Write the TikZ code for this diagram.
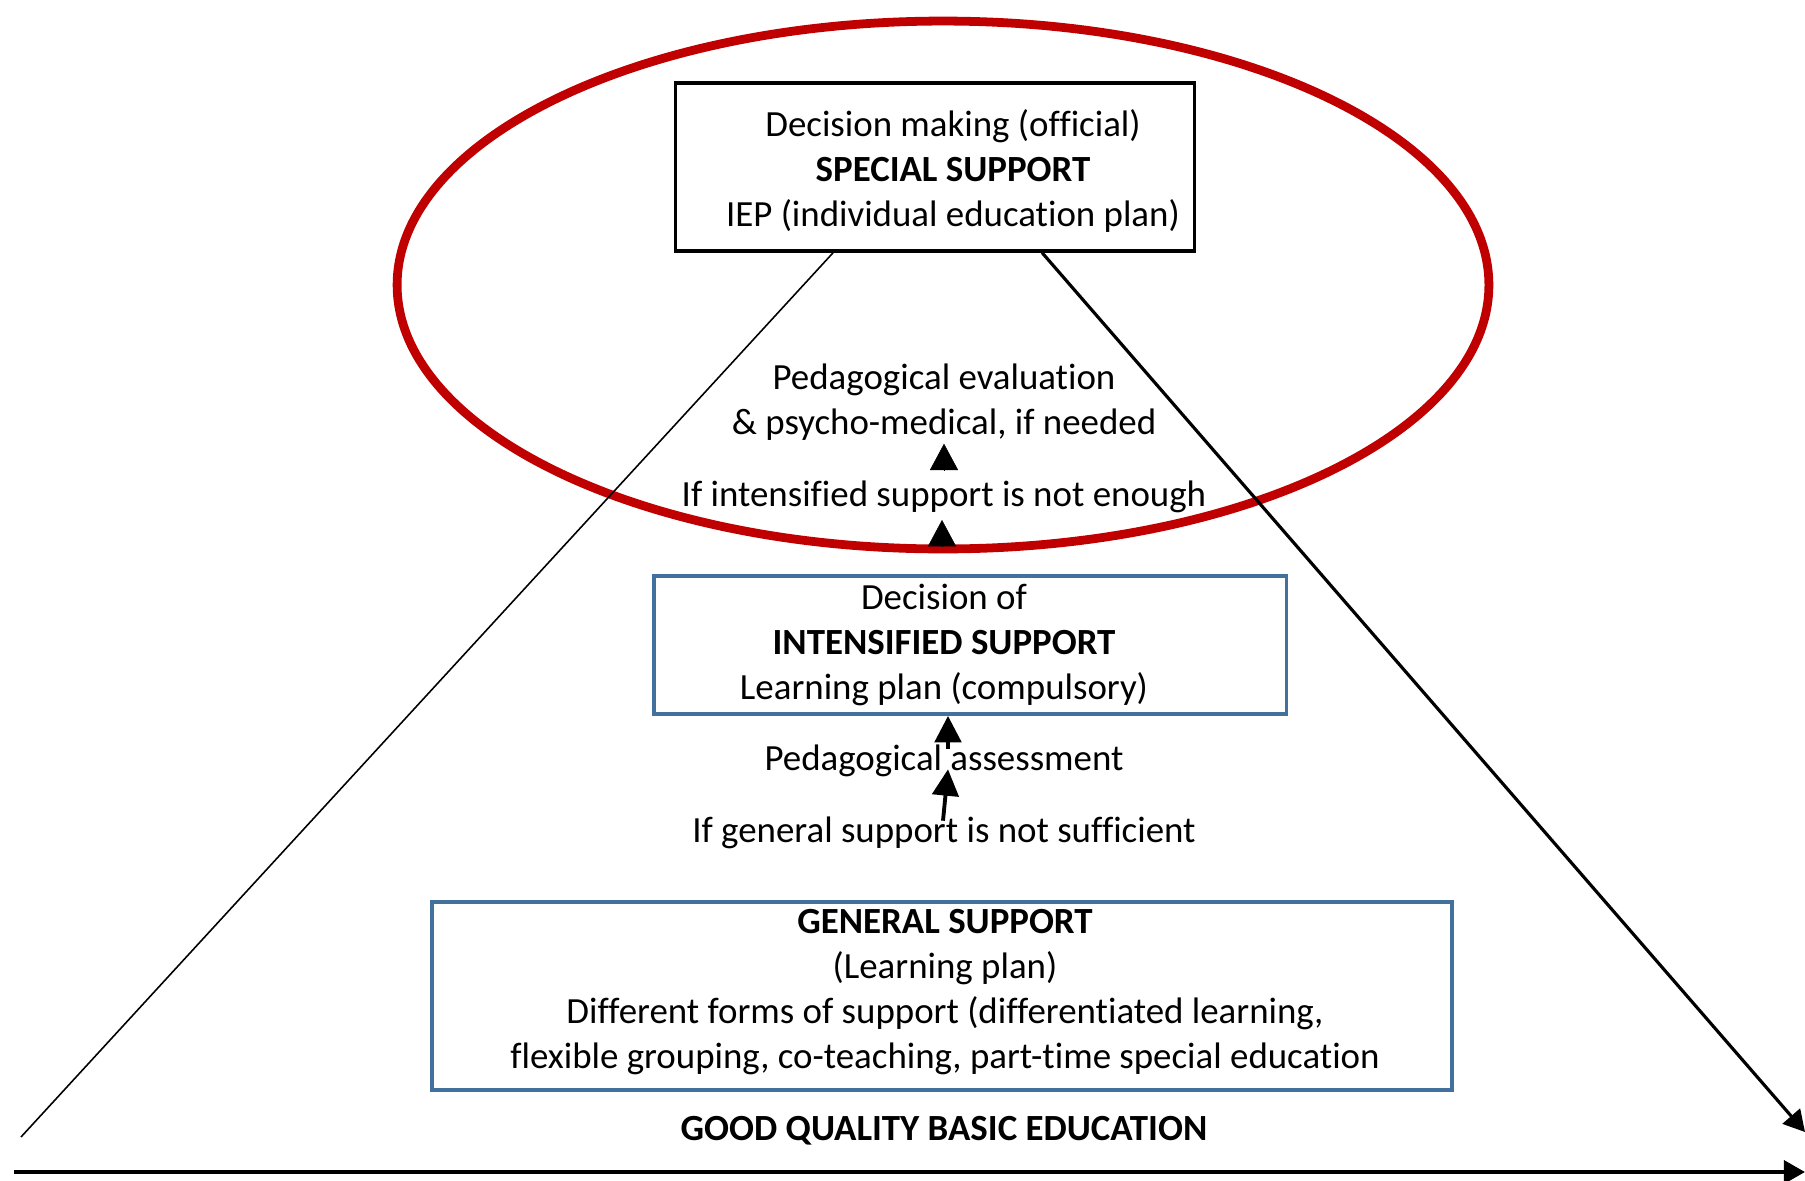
\documentclass[tikz,border=0pt]{standalone}
\usepackage{fontspec}
\setmainfont{Carlito}[Ligatures=NoCommon]
\usetikzlibrary{arrows.meta, calc, shapes.geometric}
\definecolor{ovred}{HTML}{C00000}
\definecolor{bxblue}{HTML}{41719C}
\tikzset{
  txt/.style = {align=center, inner sep=0pt,
    font=\fontsize{21}{25.6}\selectfont},
  bx/.style = {draw=black, line width=1.9pt, inner sep=0pt},
  bxb/.style = {draw=bxblue, line width=2.2pt, inner sep=0pt},
  ov/.style = {ellipse, draw=ovred, line width=5pt, inner sep=0pt,
    outer sep=0pt, minimum width=21.84cm, minimum height=10.56cm},
  side/.style = {draw=black, line width=0.9pt},
  sidea/.style = {-{Triangle[length=12pt, width=13pt]}, line width=1.8pt},
  basea/.style = {-{Triangle[length=12pt, width=13pt]}, line width=2.3pt},
  up/.style = {-{Triangle[length=15pt, width=15pt]}, line width=2.2pt},
  tri/.style = {-{Triangle[length=15pt, width=16pt]}, line width=0.3pt}
}

\begin{document}
\begin{tikzpicture}[x=0.02cm, y=-0.02cm]
  \useasboundingbox (0,0) rectangle (1805,1180);
  \node [ov] (oval) at (943,285) {};

  \node [bx, minimum width=10.38cm, minimum height=3.36cm] (specbox) at (935,167) {};
  \node [txt] (spec) at (953,171) {Decision making (official)\\
    \textbf{SPECIAL SUPPORT}\\IEP (individual education plan)};

  \node [txt] (pev) at (944,402) {Pedagogical evaluation\\\& psycho-medical, if needed};
  \node [txt] (enough) at (944,497) {If intensified support is not enough};

  \node [bxb, minimum width=12.66cm, minimum height=2.76cm] (intbox) at (970,645) {};
  \node [txt] (int) at (944,645) {Decision of\\\textbf{INTENSIFIED SUPPORT}\\
    Learning plan (compulsory)};

  \node [txt] (pa) at (944,761) {Pedagogical assessment};
  \node [txt] (ig) at (944,833) {If general support is not sufficient};

  \node [bxb, minimum width=20.42cm, minimum height=3.76cm] (genbox) at (942,996) {};
  \node [txt] (gen) at (945,992) {\textbf{GENERAL SUPPORT}\\(Learning plan)\\
    Different forms of support (differentiated learning,\\
    flexible grouping, co-teaching, part-time special education};

  \node [txt] (base) at (944,1131) {\textbf{GOOD QUALITY BASIC EDUCATION}};

  \coordinate (apex-l) at (21,1137);
  \coordinate (apex-r) at (1805,1132);
  \coordinate (base-l) at (14,1172);
  \coordinate (base-r) at (1805,1172);

  \draw [side] ($(specbox.south west)!0.305!(specbox.south east)$) -- (apex-l);
  \draw [sidea] ($(specbox.south west)!0.705!(specbox.south east)$) -- (apex-r);
  \draw [basea] (base-l) -- (base-r);

  \draw [tri] ($(oval.south)+(-1,-2)$) -- ++(0,-27);
  \draw [tri] ($(enough.north)+(0,-10)$) -- ++(0,-27);
  \coordinate (pa-top) at ($(pa.north)+(4,0)$);
  \draw [up] ($(pa.north)+(4,4)$) -- (pa-top |- intbox.south);
  \draw [up] ($(ig.north)+(-1,4)$) -- ($(pa.south)+(4,-8)$);
\end{tikzpicture}
\end{document}
